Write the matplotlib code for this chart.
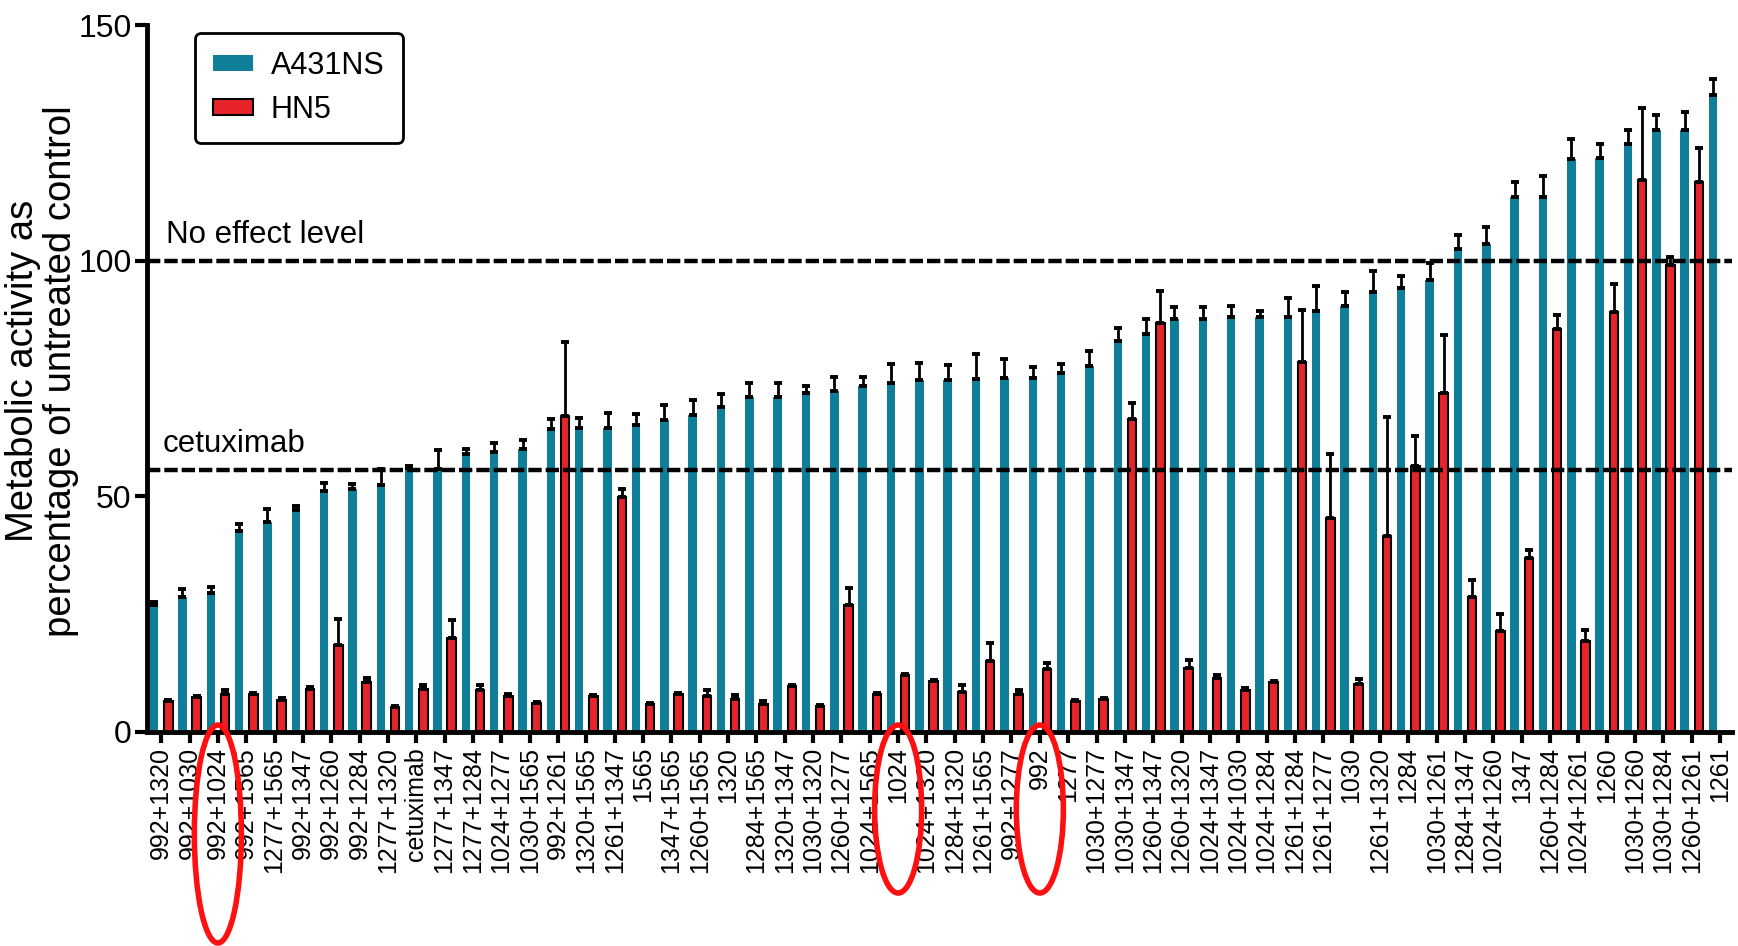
import numpy as np
import matplotlib
matplotlib.use("Agg")
import matplotlib.pyplot as plt
from matplotlib.patches import Ellipse
from matplotlib.transforms import blended_transform_factory

plt.rcParams['font.family'] = ['Liberation Sans', 'DejaVu Sans']

treatments = [
    "992+1320", "992+1030", "992+1024", "992+1565", "1277+1565", "992+1347",
    "992+1260", "992+1284", "1277+1320", "cetuximab", "1277+1347", "1277+1284",
    "1024+1277", "1030+1565", "992+1261", "1320+1565", "1261+1347", "1565",
    "1347+1565", "1260+1565", "1320", "1284+1565", "1320+1347", "1030+1320",
    "1260+1277", "1024+1565", "1024", "1024+1320", "1284+1320", "1261+1565",
    "992+1277", "992", "1277", "1030+1277", "1030+1347", "1260+1347",
    "1260+1320", "1024+1347", "1024+1030", "1024+1284", "1261+1284", "1261+1277",
    "1030", "1261+1320", "1284", "1030+1261", "1284+1347", "1024+1260",
    "1347", "1260+1284", "1024+1261", "1260", "1030+1260", "1030+1284",
    "1260+1261", "1261",
]

a431_mean = [
    26.8, 28.6, 29.5, 42.6, 44.5, 47.0, 51.2, 51.6, 52.4, 56.0, 55.7, 58.9,
    59.3, 60.0, 64.3, 64.6, 64.6, 65.1, 66.3, 67.3, 69.0, 71.0, 71.0, 72.0,
    72.4, 73.5, 74.0, 74.6, 74.7, 74.9, 75.2, 75.1, 76.2, 77.7, 83.0, 84.5,
    87.6, 87.7, 88.0, 88.0, 88.1, 89.4, 90.4, 93.4, 94.3, 96.0, 102.6, 103.6,
    113.6, 113.6, 121.6, 121.9, 124.9, 127.7, 127.8, 135.2,
]
a431_err = [
    0.7, 1.6, 1.2, 1.5, 2.8, 1.0, 1.7, 1.1, 3.3, 0.4, 4.2, 1.1,
    2.1, 1.9, 2.1, 2.0, 3.1, 2.4, 3.0, 3.1, 2.7, 3.0, 3.0, 1.5,
    2.9, 1.8, 4.1, 3.7, 3.2, 5.3, 3.9, 2.3, 1.9, 3.2, 2.7, 3.1,
    2.5, 2.6, 2.4, 1.4, 4.0, 5.2, 3.0, 4.5, 2.5, 3.5, 3.0, 3.5,
    3.1, 4.4, 4.2, 3.0, 3.0, 3.3, 3.8, 3.5,
]

hn5_mean = [
    6.4, 7.4, 7.9, 7.9, 6.8, 9.1, 18.4, 10.5, 5.2, 9.1, 19.9, 8.8,
    7.6, 6.1, 67.1, 7.5, 49.8, 5.9, 7.9, 7.6, 6.9, 5.8, 9.6, 5.5,
    26.9, 8.0, 12.0, 10.7, 8.5, 15.1, 8.0, 13.3, 6.5, 7.0, 66.5, 86.9,
    13.5, 11.4, 8.9, 10.5, 78.6, 45.4, 10.1, 41.5, 56.5, 71.9, 28.6, 21.3,
    36.8, 85.6, 19.2, 89.2, 117.1, 99.1, 116.7, np.nan,
]
hn5_err = [
    0.3, 0.2, 0.9, 0.3, 0.3, 0.3, 5.5, 0.8, 0.2, 0.9, 3.9, 1.2,
    0.4, 0.2, 15.7, 0.2, 1.8, 0.2, 0.3, 1.2, 0.9, 0.6, 0.3, 0.2,
    3.7, 0.3, 0.3, 0.2, 1.3, 3.8, 0.9, 1.3, 0.2, 0.2, 3.3, 6.6,
    1.8, 0.7, 0.3, 0.3, 11.0, 13.6, 1.0, 25.4, 6.4, 12.4, 3.6, 3.7,
    1.7, 2.8, 2.3, 5.9, 15.3, 1.8, 7.3, 0.0,
]

no_effect_level = 100
cetuximab_level = 55.5

# tick labels circled in red
highlighted = ["992+1024", "1024", "992"]

blue = "#0f7f99"
red = "#e8232a"

fig = plt.figure(figsize=(17.38, 9.46), dpi=100)
ax = fig.add_axes([147 / 1738, 1 - 731.6 / 946, 1585 / 1738, 706.1 / 946])

x = np.arange(len(treatments))
w = 0.3
off = 0.25

ax.bar(x - off, a431_mean, w, color=blue, label="A431NS", zorder=2,
       yerr=[np.zeros(len(x)), a431_err], error_kw=dict(ecolor="black", elinewidth=2, capsize=3.2, capthick=2.8))
ax.bar(x + off, hn5_mean, w, color=red, edgecolor="black", linewidth=1.5, label="HN5", zorder=2,
       yerr=[np.zeros(len(x)), hn5_err], error_kw=dict(ecolor="black", elinewidth=2, capsize=3.2, capthick=2.8))

for lvl in (no_effect_level, cetuximab_level):
    ax.axhline(lvl, color="black", lw=3.2, dashes=(3, 0.9), zorder=3)

ax.text(0.012, 102.3, "No effect level", transform=ax.get_yaxis_transform(), fontsize=22.5, va="bottom")
ax.text(0.010, 58.0, "cetuximab", transform=ax.get_yaxis_transform(), fontsize=22.5, va="bottom")

ax.set_xlim(-0.5, 55.42)
ax.set_ylim(0, 150)
ax.set_yticks([0, 50, 100, 150])
ax.set_xticks(x)
ax.set_xticklabels(treatments, rotation=90, fontsize=18)
ax.tick_params(axis="y", labelsize=23, width=3, length=9, pad=2)
ax.tick_params(axis="x", width=3, length=8, pad=3)

for s in ("top", "right"):
    ax.spines[s].set_visible(False)
for s in ("left", "bottom"):
    ax.spines[s].set_linewidth(3.5)

fig.text(42 / 1738, 0.608, "Metabolic activity as\npercentage of untreated control",
         rotation=90, ha="center", va="center", fontsize=27.5, linespacing=1.1)

leg = ax.legend(loc="upper left", bbox_to_anchor=(0.03, 0.99), borderaxespad=0,
                fontsize=22, handlelength=1.3, handleheight=0.45, handletextpad=0.6,
                labelspacing=0.45, borderpad=0.6, fancybox=True, framealpha=1)
leg.get_frame().set_edgecolor("black")
leg.get_frame().set_linewidth(2)

# red ellipses around highlighted labels (x in data, y in figure fraction)
trans = blended_transform_factory(ax.transData, fig.transFigure)
for name in highlighted:
    i = treatments.index(name)
    if "+" in name:
        cy, h = 0.1184, 0.2304
    else:
        cy, h = 0.1448, 0.1776
    ax.add_patch(Ellipse((i, cy), 1.66, h, transform=trans, fill=False,
                         edgecolor="#ff1010", lw=4, clip_on=False, zorder=5))

fig.savefig("out.png", dpi=100)
